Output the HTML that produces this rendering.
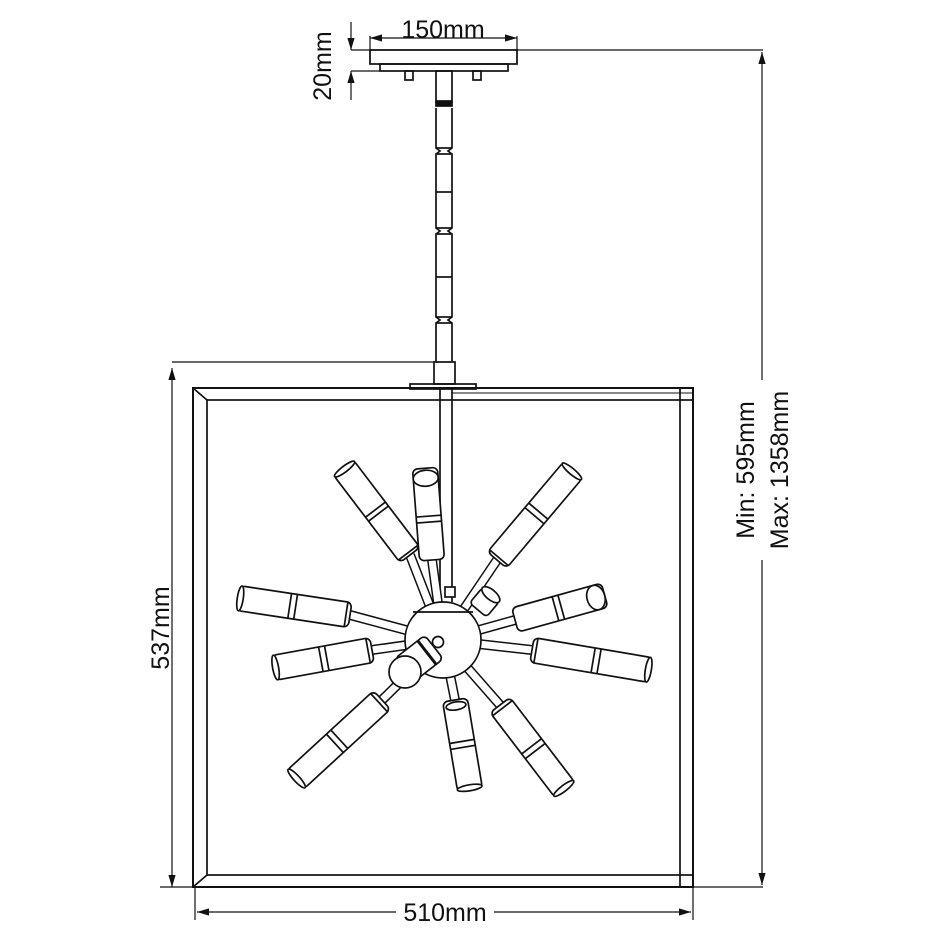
<!DOCTYPE html>
<html><head><meta charset="utf-8"><style>
html,body{margin:0;padding:0;background:#fff;width:940px;height:941px;overflow:hidden}
text{font-family:"Liberation Sans",Arial,sans-serif;fill:#111}
</style></head><body>
<svg width="940" height="941" viewBox="0 0 940 941" xmlns="http://www.w3.org/2000/svg">
<defs>
<marker id="a" viewBox="0 0 10 6" refX="10" refY="3" markerWidth="10" markerHeight="6" orient="auto-start-reverse"><path d="M0,0 L10,3 L0,6 z" fill="#111"/></marker>
</defs>
<g fill="none" stroke="#111" stroke-width="1.7">
<line x1="370" y1="38" x2="517" y2="38" marker-start="url(#a)" marker-end="url(#a)" stroke-width="1.2"/>
<line x1="370" y1="36" x2="370" y2="64" stroke-width="1.2"/>
<line x1="517" y1="36" x2="517" y2="64" stroke-width="1.2"/>
<line x1="351" y1="50" x2="763" y2="50" stroke-width="1.3"/>
<line x1="351" y1="71" x2="380" y2="71" stroke-width="1.2"/>
<line x1="351" y1="22" x2="351" y2="50" marker-end="url(#a)" stroke-width="1.2"/>
<line x1="351" y1="100" x2="351" y2="71" marker-end="url(#a)" stroke-width="1.2"/>
<rect x="370" y="50" width="147" height="14"/>
<rect x="380" y="64" width="128" height="7"/>
<rect x="405" y="71" width="8" height="9"/>
<rect x="473" y="71" width="8" height="9"/>
<rect x="436" y="71" width="16" height="31"/>
<rect x="436" y="101" width="16" height="5" fill="#111"/>
<path d="M436,108 V148 L440,151 L436,154 V228 L440,231 L436,234 V317 L440,320 L436,323 V362 M452,108 V148 L448,151 L452,154 V228 L448,231 L452,234 V317 L448,320 L452,323 V362"/>
<line x1="436" y1="148" x2="452" y2="148"/><line x1="436" y1="154" x2="452" y2="154"/>
<line x1="436" y1="192" x2="452" y2="192"/>
<line x1="436" y1="228" x2="452" y2="228"/><line x1="436" y1="234" x2="452" y2="234"/>
<line x1="436" y1="277" x2="452" y2="277"/>
<line x1="436" y1="317" x2="452" y2="317"/><line x1="436" y1="323" x2="452" y2="323"/>
<rect x="434" y="362" width="21" height="22"/>
<rect x="410" y="384" width="66" height="5"/>
<line x1="440" y1="389" x2="440" y2="602"/>
<line x1="452" y1="389" x2="452" y2="602"/>
<line x1="172" y1="362" x2="434" y2="362" stroke-width="1.3"/>
<line x1="172" y1="368" x2="172" y2="887" stroke-width="1.2" marker-start="url(#a)" marker-end="url(#a)"/>
<line x1="160" y1="887" x2="763" y2="887" stroke-width="1.3"/>
<rect x="193" y="388" width="500" height="499" stroke-width="2"/>
<rect x="207" y="400" width="473" height="475"/>
<line x1="193" y1="388" x2="207" y2="400"/>
<line x1="193" y1="887" x2="207" y2="875"/>
<rect x="680" y="388" width="13" height="12"/>
<rect x="680" y="875" width="13" height="12"/>
<line x1="452" y1="393" x2="693" y2="393" stroke-width="1"/>
<line x1="195" y1="887" x2="195" y2="920" stroke-width="1.2"/>
<line x1="693" y1="887" x2="693" y2="920" stroke-width="1.2"/>
<line x1="197" y1="912" x2="396" y2="912" stroke-width="1.2" marker-start="url(#a)"/>
<line x1="494" y1="912" x2="691" y2="912" stroke-width="1.2" marker-end="url(#a)"/>
<line x1="762" y1="52" x2="762" y2="380" stroke-width="1.2" marker-start="url(#a)"/>
<line x1="762" y1="560" x2="762" y2="885" stroke-width="1.2" marker-end="url(#a)"/>
</g>

<g stroke-linecap="butt">
<g stroke="#111" stroke-width="10">
<line x1="443" y1="640" x2="410" y2="555"/><line x1="443" y1="640" x2="432" y2="560"/>
<line x1="443" y1="640" x2="497" y2="560"/><line x1="443" y1="640" x2="515" y2="620"/>
<line x1="443" y1="640" x2="532" y2="650"/><line x1="443" y1="640" x2="350" y2="615"/>
<line x1="443" y1="640" x2="372" y2="650"/><line x1="443" y1="640" x2="382" y2="700"/>
<line x1="443" y1="640" x2="455" y2="700"/><line x1="443" y1="640" x2="500" y2="705"/>
</g>
<g stroke="#fff" stroke-width="7">
<line x1="443" y1="640" x2="410" y2="555"/><line x1="443" y1="640" x2="432" y2="560"/>
<line x1="443" y1="640" x2="497" y2="560"/><line x1="443" y1="640" x2="515" y2="620"/>
<line x1="443" y1="640" x2="532" y2="650"/><line x1="443" y1="640" x2="350" y2="615"/>
<line x1="443" y1="640" x2="372" y2="650"/><line x1="443" y1="640" x2="382" y2="700"/>
<line x1="443" y1="640" x2="455" y2="700"/><line x1="443" y1="640" x2="500" y2="705"/>
</g>
</g>

<g fill="#fff" stroke="#111" stroke-width="1.7">
<g transform="translate(410,555) rotate(-127.3)"><rect x="0" y="-12.5" width="110" height="25" rx="5"/><line x1="52" y1="-12.5" x2="52" y2="12.5"/><line x1="57" y1="-12.5" x2="57" y2="12.5"/><line x1="3" y1="-12.5" x2="3" y2="12.5"/><ellipse cx="108" cy="0" rx="3" ry="12.5"/></g>
<g transform="translate(432,560) rotate(-94.4)"><rect x="0" y="-12.5" width="92" height="25" rx="5"/><line x1="38" y1="-12.5" x2="38" y2="12.5"/><line x1="44" y1="-12.5" x2="44" y2="12.5"/><ellipse cx="82" cy="0" rx="8" ry="12.5"/></g>
<g transform="translate(497,560) rotate(-49.8)"><rect x="0" y="-12.5" width="118" height="25" rx="5"/><line x1="58" y1="-12.5" x2="58" y2="12.5"/><line x1="64" y1="-12.5" x2="64" y2="12.5"/><line x1="3" y1="-12.5" x2="3" y2="12.5"/><ellipse cx="116" cy="0" rx="3" ry="12.5"/></g>
<g transform="translate(515,620) rotate(-15.5)"><rect x="0" y="-12.5" width="93" height="25" rx="5"/><line x1="42" y1="-12.5" x2="42" y2="12.5"/><line x1="48" y1="-12.5" x2="48" y2="12.5"/><ellipse cx="84" cy="0" rx="9" ry="12.5"/></g>
<g transform="translate(532,650) rotate(9.6)"><rect x="0" y="-12.5" width="120" height="25" rx="5"/><line x1="62" y1="-12.5" x2="62" y2="12.5"/><line x1="68" y1="-12.5" x2="68" y2="12.5"/><line x1="4" y1="-12.5" x2="4" y2="12.5"/><ellipse cx="118" cy="0" rx="3" ry="12.5"/></g>
<g transform="translate(350,615) rotate(-171.4)"><rect x="0" y="-12.5" width="113" height="25" rx="5"/><line x1="55" y1="-12.5" x2="55" y2="12.5"/><line x1="61" y1="-12.5" x2="61" y2="12.5"/><line x1="4" y1="-12.5" x2="4" y2="12.5"/><ellipse cx="111" cy="0" rx="3" ry="12.5"/></g>
<g transform="translate(372,650) rotate(169.7)"><rect x="0" y="-12.5" width="100" height="25" rx="5"/><line x1="46" y1="-12.5" x2="46" y2="12.5"/><line x1="52" y1="-12.5" x2="52" y2="12.5"/><line x1="4" y1="-12.5" x2="4" y2="12.5"/><ellipse cx="98" cy="0" rx="3" ry="12.5"/></g>
<g transform="translate(382,700) rotate(137.4)"><rect x="0" y="-12.5" width="118" height="25" rx="5"/><line x1="58" y1="-12.5" x2="58" y2="12.5"/><line x1="64" y1="-12.5" x2="64" y2="12.5"/><line x1="4" y1="-12.5" x2="4" y2="12.5"/><ellipse cx="116" cy="0" rx="3" ry="12.5"/></g>
<g transform="translate(455,700) rotate(80.5)"><rect x="0" y="-12.5" width="91" height="25" rx="5"/><line x1="42" y1="-12.5" x2="42" y2="12.5"/><line x1="48" y1="-12.5" x2="48" y2="12.5"/><ellipse cx="6" cy="0" rx="4" ry="10"/><ellipse cx="89" cy="0" rx="3" ry="12.5"/></g>
<g transform="translate(500,705) rotate(52.6)"><rect x="0" y="-12.5" width="107" height="25" rx="5"/><line x1="52" y1="-12.5" x2="52" y2="12.5"/><line x1="58" y1="-12.5" x2="58" y2="12.5"/><line x1="4" y1="-12.5" x2="4" y2="12.5"/><ellipse cx="105" cy="0" rx="3" ry="12.5"/></g>
<g transform="translate(478,610) rotate(-50)"><rect x="0" y="-11" width="20" height="22" rx="4"/><ellipse cx="20" cy="0" rx="5" ry="11"/></g>
<circle cx="443" cy="640" r="38"/>
<line x1="413" y1="612" x2="473" y2="612"/>
<rect x="445" y="587" width="10" height="10"/>
<circle cx="438" cy="642" r="5.5"/>
<g transform="translate(434,647) rotate(142)"><rect x="0" y="-15" width="38" height="30" rx="5"/><line x1="9" y1="-15" x2="9" y2="15" stroke-width="3"/></g>
<circle cx="405" cy="672" r="16"/>
</g>

<text x="443" y="38" font-size="25" text-anchor="middle">150mm</text>
<text transform="translate(331,66) rotate(-90)" font-size="25" text-anchor="middle">20mm</text>
<text transform="translate(169,628) rotate(-90)" font-size="25" text-anchor="middle">537mm</text>
<text x="445" y="921" font-size="25" text-anchor="middle">510mm</text>
<text transform="translate(754,470) rotate(-90)" font-size="25" text-anchor="middle">Min: 595mm</text>
<text transform="translate(788,470) rotate(-90)" font-size="25" text-anchor="middle">Max: 1358mm</text>
</svg>
</body></html>
